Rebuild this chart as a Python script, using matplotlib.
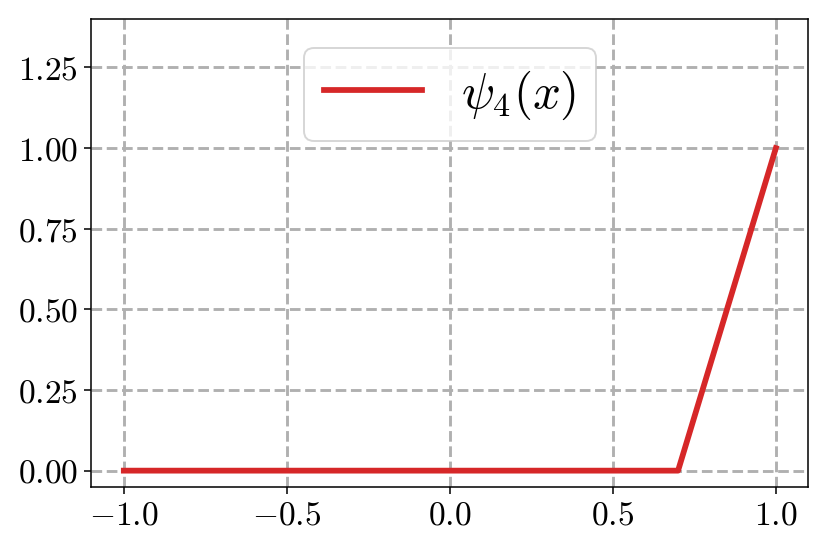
import matplotlib
matplotlib.use("Agg")
import matplotlib.pyplot as plt

plt.rcParams['font.family'] = 'serif'
plt.rcParams['font.serif'] = ['cmr10']
plt.rcParams['mathtext.fontset'] = 'cm'
plt.rcParams['axes.formatter.use_mathtext'] = True

# basis function psi_4 on the nodes
x_nodes = [-1.0, 0.7, 1.0]
psi_4 = [0.0, 0.0, 1.0]

fig = plt.figure(figsize=(6, 4), dpi=138.2)
ax = fig.add_axes([0.110, 0.118, 0.865, 0.846])

ax.plot(x_nodes, psi_4, color='tab:red', lw=3.0, label=r'$\psi_4(x)$')
ax.grid(True, ls='--', color='#b0b0b0', lw=1.5)
ax.set_ylim(-0.05, 1.4)
ax.set_yticks([0.0, 0.25, 0.5, 0.75, 1.0, 1.25])
ax.set_xticks([-1.0, -0.5, 0.0, 0.5, 1.0])
ax.tick_params(labelsize=17.5)
ax.legend(loc='upper center', fontsize=25.5, handlelength=2.0,
          bbox_to_anchor=(0.5, 0.99))

fig.savefig('out.png', dpi=138.2)
